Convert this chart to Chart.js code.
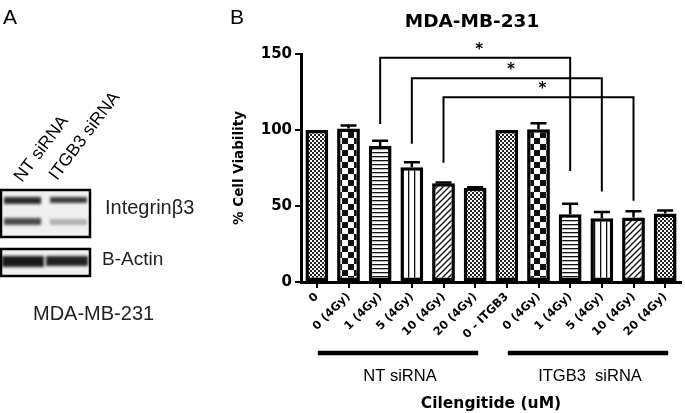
<!DOCTYPE html>
<html>
<head>
<meta charset="utf-8">
<script src="https://cdn.jsdelivr.net/npm/chart.js@4"></script>
<style>
  body { margin: 0; background: #fff; }
  #wrap { width: 685px; height: 413px; position: relative; }
</style>
</head>
<body>
<div id="wrap"><canvas id="myChart"></canvas></div>
<script>
const categories = ['0', '0 (4Gy)', '1 (4Gy)', '5 (4Gy)', '10 (4Gy)', '20 (4Gy)',
                    '0 - ITGB3', '0 (4Gy)', '1 (4Gy)', '5 (4Gy)', '10 (4Gy)', '20 (4Gy)'];
const viability = [100, 101, 89.5, 75.5, 65, 62, 100, 100.5, 44.5, 42, 42.5, 45];
const errorUp = [0, 2, 3.5, 3.3, 0.4, 0.4, 0, 4, 7, 4, 4, 2];
const patternKinds = ['fine', 'check', 'hline', 'vline', 'diag', 'fine',
                      'fine', 'check', 'hline', 'vline', 'diag', 'fine'];

// significance brackets (bar index, heights in % units)
const bracketFrom = [2, 3, 4];
const bracketTo = [8, 9, 10];
const bracketTop = [147.5, 134, 121.5];
const bracketLeftEnd = [104, 91, 78.5];
const bracketRightEnd = [73, 59.5, 53.5];

const groupNames = ['NT siRNA', 'ITGB3  siRNA'];
const groupFirst = [0, 6];
const groupLast = [5, 11];

const yTicks = [0, 50, 100, 150];

function makePattern(kind) {
  const c = document.createElement('canvas');
  const g = c.getContext('2d');
  let s = 4;
  if (kind === 'check') s = 12;
  if (kind === 'vline' || kind === 'diag') s = 6;
  c.width = s; c.height = s;
  g.fillStyle = '#fff';
  g.fillRect(0, 0, s, s);
  g.fillStyle = '#111';
  g.strokeStyle = '#111';
  if (kind === 'fine') {
    g.fillStyle = '#222';
    g.fillRect(0, 0, 2, 2);
    g.fillRect(2, 2, 2, 2);
  } else if (kind === 'check') {
    g.fillRect(0, 0, 6, 6);
    g.fillRect(6, 6, 6, 6);
  } else if (kind === 'hline') {
    g.fillRect(0, 0, s, 1.3);
  } else if (kind === 'vline') {
    g.fillRect(0, 0, 1.3, s);
  } else if (kind === 'diag') {
    g.lineWidth = 1.4;
    g.beginPath();
    g.moveTo(0, s); g.lineTo(s, 0);
    g.moveTo(-1, 1); g.lineTo(1, -1);
    g.moveTo(s - 1, s + 1); g.lineTo(s + 1, s - 1);
    g.stroke();
  }
  return g.createPattern(c, 'repeat');
}

const panelA = {
  id: 'panelA',
  afterDraw(chart) {
    const ctx = chart.ctx;
    ctx.save();
    ctx.fillStyle = '#000';
    ctx.textBaseline = 'alphabetic';
    ctx.textAlign = 'left';
    ctx.font = '21px "Liberation Sans", Arial, sans-serif';
    ctx.fillText('A', 3, 24);
    ctx.fillText('B', 230, 24);

    ctx.font = '17.5px "Liberation Sans", Arial, sans-serif';
    [['NT siRNA', 22, 183], ['ITGB3 siRNA', 57, 181]].forEach(([t, x, y]) => {
      ctx.save();
      ctx.translate(x, y);
      ctx.rotate(-53 * Math.PI / 180);
      ctx.fillText(t, 0, 0);
      ctx.restore();
    });

    // blots
    ctx.fillStyle = '#f0f0f0';
    ctx.fillRect(1, 190, 89, 47);
    ctx.fillRect(1, 249, 89, 27);
    ctx.filter = 'blur(1.6px)';
    ctx.fillStyle = '#2a2a2a'; ctx.fillRect(4, 197, 37, 7);
    ctx.fillStyle = '#3a3a3a'; ctx.fillRect(50, 197, 37, 6);
    ctx.fillStyle = '#4a4a4a'; ctx.fillRect(4, 218, 37, 7);
    ctx.fillStyle = '#b0b0b0'; ctx.fillRect(50, 219, 37, 6);
    ctx.fillStyle = '#1a1a1a'; ctx.fillRect(2, 256, 42, 11);
    ctx.fillStyle = '#222222'; ctx.fillRect(46, 256, 42, 10);
    ctx.filter = 'none';
    ctx.strokeStyle = '#000';
    ctx.lineWidth = 2.5;
    ctx.strokeRect(1, 190, 89, 47);
    ctx.strokeRect(1, 249, 89, 27);

    ctx.font = '20px "Liberation Sans", Arial, sans-serif';
    ctx.fillText('Integrin\u03b23', 105, 214);
    ctx.font = '19px "Liberation Sans", Arial, sans-serif';
    ctx.fillText('B-Actin', 102, 265);
    ctx.font = '20px "Liberation Sans", Arial, sans-serif';
    ctx.fillText('MDA-MB-231', 33, 320);
    ctx.restore();
  }
};

const annotations = {
  id: 'annotations',
  afterDatasetsDraw(chart) {
    const ctx = chart.ctx;
    const x = chart.scales.x;
    const y = chart.scales.y;
    ctx.save();
    ctx.strokeStyle = '#000';
    ctx.fillStyle = '#000';
    ctx.lineCap = 'butt';

    // error bars (upper only)
    ctx.lineWidth = 2.5;
    viability.forEach((v, i) => {
      if (errorUp[i] <= 0) return;
      const cx = x.getPixelForValue(i);
      const yt = y.getPixelForValue(v + errorUp[i]);
      const yb = y.getPixelForValue(v);
      ctx.beginPath();
      ctx.moveTo(cx, yb);
      ctx.lineTo(cx, yt);
      ctx.moveTo(cx - 8, yt);
      ctx.lineTo(cx + 8, yt);
      ctx.stroke();
    });

    // brackets
    ctx.lineWidth = 2;
    ctx.font = 'bold 15px "DejaVu Sans", sans-serif';
    ctx.textAlign = 'center';
    ctx.textBaseline = 'middle';
    bracketFrom.forEach((f, k) => {
      const x1 = x.getPixelForValue(f);
      const x2 = x.getPixelForValue(bracketTo[k]);
      const yt = y.getPixelForValue(bracketTop[k]);
      ctx.beginPath();
      ctx.moveTo(x1, y.getPixelForValue(bracketLeftEnd[k]));
      ctx.lineTo(x1, yt);
      ctx.lineTo(x2, yt);
      ctx.lineTo(x2, y.getPixelForValue(bracketRightEnd[k]));
      ctx.stroke();
      ctx.fillText('*', (x1 + x2) / 2 + 4, yt - 8);
    });

    // title
    ctx.font = 'bold 18.5px "DejaVu Sans", sans-serif';
    ctx.textBaseline = 'alphabetic';
    ctx.fillText('MDA-MB-231', 472, 27);

    // group lines and labels
    ctx.lineWidth = 4.5;
    ctx.font = '16.5px "Liberation Sans", Arial, sans-serif';
    groupNames.forEach((name, g) => {
      const a = x.getPixelForValue(groupFirst[g]) + 1;
      const b = x.getPixelForValue(groupLast[g]) + 3;
      ctx.beginPath();
      ctx.moveTo(a, 353);
      ctx.lineTo(b, 353);
      ctx.stroke();
      ctx.fillText(name, (a + b) / 2 + 2, 381);
    });
    ctx.restore();
  }
};

const ctx = document.getElementById('myChart');

new Chart(ctx, {
  type: 'bar',
  data: {
    labels: categories,
    datasets: [{
      data: viability,
      backgroundColor: patternKinds.map(makePattern),
      borderColor: '#000',
      borderWidth: 3.5,
      borderSkipped: false,
      categoryPercentage: 1,
      barPercentage: 0.72
    }]
  },
  options: {
    responsive: true,
    maintainAspectRatio: false,
    animation: false,
    devicePixelRatio: 1,
    layout: { padding: { left: 227, top: 54, right: 4, bottom: 0 } },
    plugins: {
      legend: { display: false },
      tooltip: { enabled: false }
    },
    scales: {
      y: {
        min: 0,
        max: 150,
        afterFit: (scale) => { scale.width = 74; },
        afterBuildTicks: (scale) => { scale.ticks = yTicks.map(v => ({ value: v })); },
        border: { display: true, color: '#000', width: 3 },
        grid: { display: true, drawOnChartArea: false, drawTicks: true, tickLength: 6, color: '#000', lineWidth: 2 },
        ticks: {
          color: '#000',
          padding: 3,
          font: { family: '"DejaVu Sans", sans-serif', size: 15, weight: 'bold' }
        },
        title: {
          display: true,
          text: '% Cell Viability',
          color: '#000',
          padding: { top: 4, bottom: 4 },
          font: { family: '"DejaVu Sans", sans-serif', size: 13.5, weight: 'bold' }
        }
      },
      x: {
        afterFit: (scale) => { scale.height = 131; },
        border: { display: true, color: '#000', width: 3 },
        grid: { display: true, drawOnChartArea: false, drawTicks: true, tickLength: 6, color: '#000', lineWidth: 2, offset: false },
        ticks: {
          color: '#000',
          autoSkip: false,
          minRotation: 45,
          maxRotation: 45,
          padding: 2,
          font: { family: '"DejaVu Sans", sans-serif', size: 11.5, weight: 'bold' }
        },
        title: {
          display: true,
          text: 'Cilengitide (uM)',
          color: '#000',
          padding: { top: 0, bottom: 0 },
          font: { family: '"DejaVu Sans", sans-serif', size: 15.5, weight: 'bold' }
        }
      }
    }
  },
  plugins: [annotations, panelA]
});
</script>
</body>
</html>
